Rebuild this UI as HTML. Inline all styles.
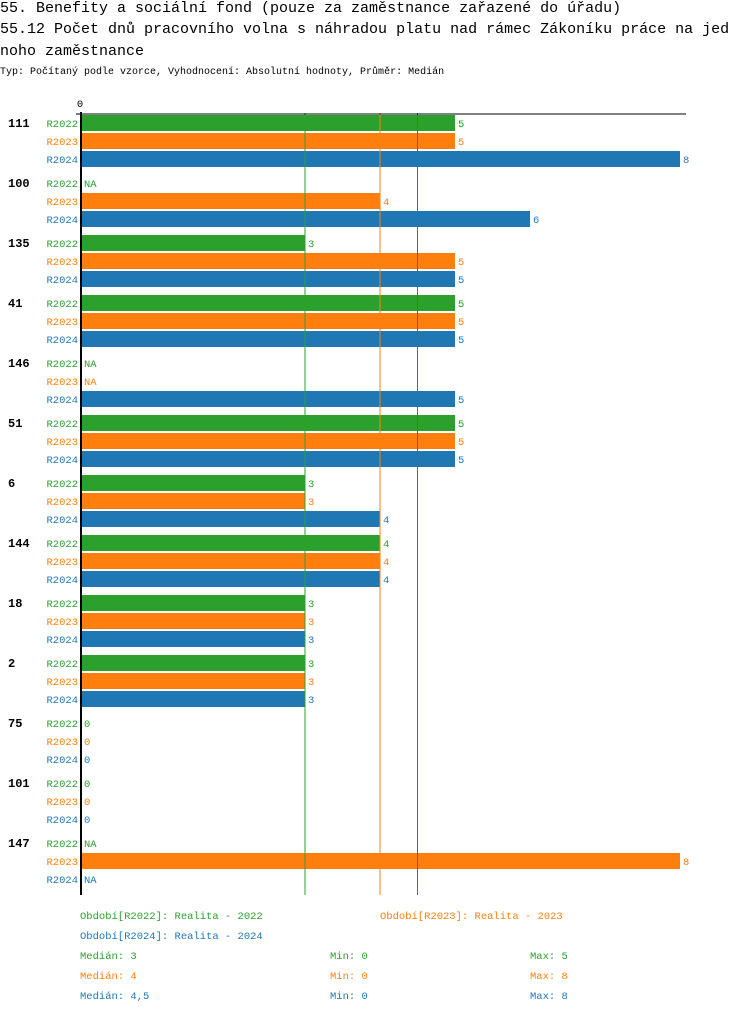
<!DOCTYPE html>
<html><head><meta charset="utf-8"><style>
body{margin:0;background:#fff;width:750px;height:1014px;overflow:hidden;font-family:"Liberation Mono",monospace;}
.t{position:absolute;left:0;font-size:15px;color:#000;white-space:nowrap;}
</style></head><body>
<div class="t" style="top:0px">55. Benefity a sociální fond (pouze za zaměstnance zařazené do úřadu)</div>
<div class="t" style="top:21px">55.12 Počet dnů pracovního volna s náhradou platu nad rámec Zákoníku práce na jed</div>
<div class="t" style="top:43px">noho zaměstnance</div>
<div class="t" style="top:67px;font-size:10px">Typ: Počítaný podle vzorce, Vyhodnocení: Absolutní hodnoty, Průměr: Medián</div>
<svg id="c" width="750" height="1014" style="position:absolute;left:0;top:0"></svg>
<script>
const groups=["111","100","135","41","146","51","6","144","18","2","75","101","147"];
const series=["R2022","R2023","R2024"];
const v2022=[5,null,3,5,null,5,3,4,3,3,0,0,null];
const v2023=[5,4,5,5,null,5,3,4,3,3,0,0,8];
const v2024=[8,6,5,5,5,5,4,4,3,3,0,0,null];
const medians=[3,4,4.5];
const colors=["#2ca02c","#ff7f0e","#1f77b4"];
const vals=[v2022,v2023,v2024];
const NS="http://www.w3.org/2000/svg";
const svg=document.getElementById('c');
const x=v=>80+v*75;
function el(t,a,txt){const e=document.createElementNS(NS,t);for(const k in a)e.setAttribute(k,a[k]);if(txt!==undefined)e.textContent=txt;svg.appendChild(e);return e;}
const F='"Liberation Mono",monospace';
groups.forEach((g,gi)=>{
  const y0=114+gi*60;
  const gl=el('text',{x:8,y:y0+13,'font-size':12,'font-weight':'bold','font-family':F,fill:'#000'},g);
  
  
  series.forEach((s,si)=>{
    const yy=y0+1+si*18;const v=vals[si][gi];
    const sl=el('text',{x:78,y:yy+12,'font-size':10.5,'font-family':F,fill:colors[si],'text-anchor':'end'},s);
    
    
    if(v!==null&&v>0){
      const r=el('rect',{x:81,y:yy,width:x(v)-81,height:16,fill:colors[si]});
      
      
    }
    const vl=el('text',{x:(v?x(v):81)+3,y:yy+12,'font-size':10.5,'font-family':F,fill:colors[si]},v===null?'NA':String(v));
    
    
  });
});
medians.forEach((m,i)=>{
  const l=el('line',{x1:x(m),x2:x(m),y1:113,y2:895,stroke:colors[i],'stroke-width':1});
  
  
});
const ax=el('line',{x1:81,x2:81,y1:112,y2:895,stroke:'#000','stroke-width':2});


const tx=el('line',{x1:76,x2:686,y1:114,y2:114,stroke:'#000','stroke-width':1});


const z=el('text',{x:80,y:107,'font-size':10.5,'font-family':F,fill:'#000','text-anchor':'middle'},'0');


const leg=[[80,919,'Období[R2022]: Realita - 2022',0],[380,919,'Období[R2023]: Realita - 2023',1],[80,939,'Období[R2024]: Realita - 2024',2]];
leg.forEach(l=>{const t=el('text',{x:l[0],y:l[1],'font-size':10.5,'font-family':F,fill:colors[l[3]]},l[2]);

});
const stats=[["Medián: 3","Min: 0","Max: 5"],["Medián: 4","Min: 0","Max: 8"],["Medián: 4,5","Min: 0","Max: 8"]];
stats.forEach((r,i)=>{[80,330,530].forEach((xx,j)=>{const t=el('text',{x:xx,y:959+i*20,'font-size':10.5,'font-family':F,fill:colors[i]},r[j]);

});});
</script>
</body></html>
